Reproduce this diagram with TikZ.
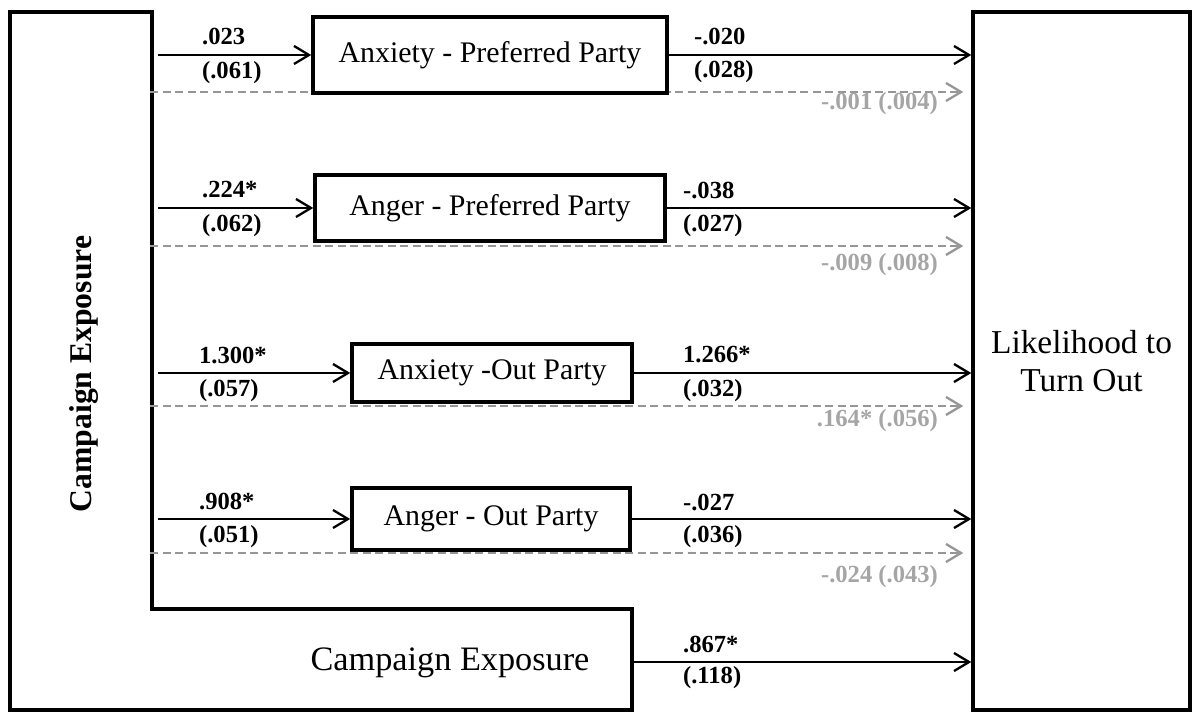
\documentclass[tikz,border=0pt]{standalone}
\usepackage{fontspec}
\setmainfont{Liberation Serif}
\usepackage{tikz}
\usetikzlibrary{arrows.meta}
\definecolor{indtext}{RGB}{165,165,165}
\definecolor{indline}{RGB}{150,150,150}

\begin{document}
\begin{tikzpicture}[x=0.2mm, y=-0.2mm,
    box/.style={draw, line width=2pt, inner sep=0pt, font=\fontsize{17}{20}\selectfont},
    coef/.style={font=\bfseries\fontsize{14}{16}\selectfont, inner sep=1pt, anchor=west},
    indcoef/.style={coef, text=indtext, anchor=east},
    arrline/.style={line width=1.3pt, -{Straight Barb[length=3mm, width=3.6mm]}},
    indarr/.style={arrline, draw=indline, dash pattern=on 1.6mm off 0.9mm, shorten >=1.6mm}]
\useasboundingbox (0,0) rectangle (1200,716);

% exposure block
\draw[line width=2pt] (10,12) -- (152,12) -- (152,609) -- (632,609) -- (632,710) -- (10,710) -- cycle;
\node[font=\bfseries\fontsize{18}{20}\selectfont, rotate=90] (expV) at (84,374) {Campaign Exposure};
\node[font=\fontsize{19.5}{22}\selectfont] (expB) at (450,663) {Campaign Exposure};
\coordinate (s1) at (158,55);
\coordinate (s2) at (158,208);
\coordinate (s3) at (158,373);
\coordinate (s4) at (158,519);
\coordinate (s5) at (632,662);
\coordinate (d1) at (150,92);
\coordinate (d2) at (150,246);
\coordinate (d3) at (150,406);
\coordinate (d4) at (150,553);

% outcome
\node[box, minimum width=43.4mm, minimum height=139.6mm, align=center,
      font=\fontsize{19}{22}\selectfont] (turnout) at (1081.5,361) {Likelihood to\\Turn Out};

% indirect paths
\draw[indarr] (d1) -- (d1 -| turnout.west);
\draw[indarr] (d2) -- (d2 -| turnout.west);
\draw[indarr] (d3) -- (d3 -| turnout.west);
\draw[indarr] (d4) -- (d4 -| turnout.west);
\node[indcoef] (i1) at (940,104) {-.001 (.004)};
\node[indcoef] (i2) at (940,265) {-.009 (.008)};
\node[indcoef] (i3) at (940,421) {.164* (.056)};
\node[indcoef] (i4) at (940,577) {-.024 (.043)};

% mediators
\node[box, minimum width=70.8mm, minimum height=15.2mm] (anxPref) at (490,55) {Anxiety - Preferred Party};
\node[box, minimum width=70mm, minimum height=13.2mm] (angPref) at (490,208) {Anger - Preferred Party};
\node[box, minimum width=56mm, minimum height=11.6mm] (anxOut) at (492,373) {Anxiety -Out Party};
\node[box, minimum width=55.6mm, minimum height=12.4mm] (angOut) at (491,519) {Anger - Out Party};

% a paths
\draw[arrline] (s1) -- (anxPref.west);
\draw[arrline] (s2) -- (angPref.west);
\draw[arrline] (s3) -- (anxOut.west);
\draw[arrline] (s4) -- (angOut.west);
\node[coef] (a1) at (200,37) {.023};
\node[coef] (a1se) at (200,73) {(.061)};
\node[coef] (a2) at (200,190) {.224*};
\node[coef] (a2se) at (200,226) {(.062)};
\node[coef] (a3) at (197,355) {1.300*};
\node[coef] (a3se) at (197,391) {(.057)};
\node[coef] (a4) at (197,501) {.908*};
\node[coef] (a4se) at (197,537) {(.051)};

% b paths and direct effect
\draw[arrline] (anxPref.east) -- (anxPref.east -| turnout.west);
\draw[arrline] (angPref.east) -- (angPref.east -| turnout.west);
\draw[arrline] (anxOut.east) -- (anxOut.east -| turnout.west);
\draw[arrline] (angOut.east) -- (angOut.east -| turnout.west);
\draw[arrline] (s5) -- (s5 -| turnout.west);
\node[coef] (b1) at (692,37) {-.020};
\node[coef] (b1se) at (692,72) {(.028)};
\node[coef] (b2) at (681,190) {-.038};
\node[coef] (b2se) at (681,226) {(.027)};
\node[coef] (b3) at (681,355) {1.266*};
\node[coef] (b3se) at (681,391) {(.032)};
\node[coef] (b4) at (681,502) {-.027};
\node[coef] (b4se) at (681,537) {(.036)};
\node[coef] (c) at (681,644) {.867*};
\node[coef] (cse) at (681,678) {(.118)};

\end{tikzpicture}
\end{document}
